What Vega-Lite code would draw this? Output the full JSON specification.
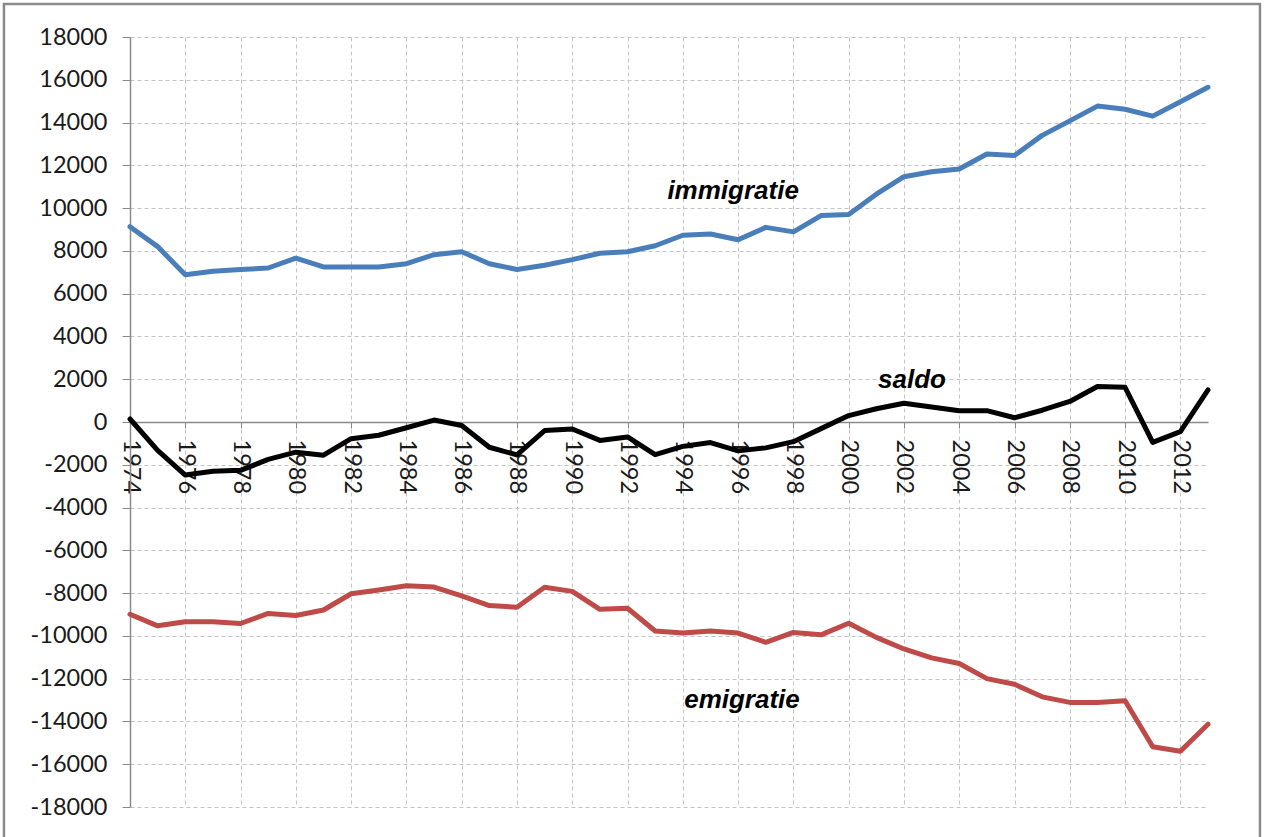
{
  "$schema": "https://vega.github.io/schema/vega-lite/v6.json",
  "width": 1078,
  "height": 770,
  "autosize": {"type": "none"},
  "padding": {"left": 130, "top": 37, "right": 58, "bottom": 30},
  "background": "#ffffff",
  "config": {"view": {"stroke": null}},
  "datasets": {
    "migration": [
      {"year": 1974, "immigratie": 9130, "emigratie": -8990, "saldo": 140},
      {"year": 1975, "immigratie": 8200, "emigratie": -9530, "saldo": -1330},
      {"year": 1976, "immigratie": 6880, "emigratie": -9340, "saldo": -2480},
      {"year": 1977, "immigratie": 7050, "emigratie": -9340, "saldo": -2300},
      {"year": 1978, "immigratie": 7130, "emigratie": -9420, "saldo": -2260},
      {"year": 1979, "immigratie": 7200, "emigratie": -8950, "saldo": -1750},
      {"year": 1980, "immigratie": 7660, "emigratie": -9050, "saldo": -1410},
      {"year": 1981, "immigratie": 7250, "emigratie": -8790, "saldo": -1550},
      {"year": 1982, "immigratie": 7250, "emigratie": -8030, "saldo": -780},
      {"year": 1983, "immigratie": 7250, "emigratie": -7850, "saldo": -620},
      {"year": 1984, "immigratie": 7400, "emigratie": -7660, "saldo": -270},
      {"year": 1985, "immigratie": 7820, "emigratie": -7720, "saldo": 90},
      {"year": 1986, "immigratie": 7960, "emigratie": -8130, "saldo": -160},
      {"year": 1987, "immigratie": 7400, "emigratie": -8580, "saldo": -1180},
      {"year": 1988, "immigratie": 7130, "emigratie": -8660, "saldo": -1540},
      {"year": 1989, "immigratie": 7330, "emigratie": -7730, "saldo": -400},
      {"year": 1990, "immigratie": 7590, "emigratie": -7920, "saldo": -330},
      {"year": 1991, "immigratie": 7890, "emigratie": -8760, "saldo": -860},
      {"year": 1992, "immigratie": 7960, "emigratie": -8710, "saldo": -700},
      {"year": 1993, "immigratie": 8240, "emigratie": -9770, "saldo": -1530},
      {"year": 1994, "immigratie": 8730, "emigratie": -9870, "saldo": -1140},
      {"year": 1995, "immigratie": 8790, "emigratie": -9770, "saldo": -960},
      {"year": 1996, "immigratie": 8520, "emigratie": -9870, "saldo": -1350},
      {"year": 1997, "immigratie": 9100, "emigratie": -10300, "saldo": -1210},
      {"year": 1998, "immigratie": 8890, "emigratie": -9840, "saldo": -920},
      {"year": 1999, "immigratie": 9650, "emigratie": -9950, "saldo": -310},
      {"year": 2000, "immigratie": 9700, "emigratie": -9410, "saldo": 300},
      {"year": 2001, "immigratie": 10650, "emigratie": -10070, "saldo": 620},
      {"year": 2002, "immigratie": 11470, "emigratie": -10610, "saldo": 880},
      {"year": 2003, "immigratie": 11700, "emigratie": -11030, "saldo": 700},
      {"year": 2004, "immigratie": 11830, "emigratie": -11290, "saldo": 530},
      {"year": 2005, "immigratie": 12530, "emigratie": -12000, "saldo": 530},
      {"year": 2006, "immigratie": 12460, "emigratie": -12260, "saldo": 200},
      {"year": 2007, "immigratie": 13400, "emigratie": -12850, "saldo": 550},
      {"year": 2008, "immigratie": 14080, "emigratie": -13110, "saldo": 960},
      {"year": 2009, "immigratie": 14770, "emigratie": -13110, "saldo": 1660},
      {"year": 2010, "immigratie": 14620, "emigratie": -13030, "saldo": 1620},
      {"year": 2011, "immigratie": 14300, "emigratie": -15180, "saldo": -950},
      {"year": 2012, "immigratie": 14970, "emigratie": -15390, "saldo": -450},
      {"year": 2013, "immigratie": 15650, "emigratie": -14130, "saldo": 1500}
    ],
    "labels": [
      {"label": "immigratie", "year": 1995.82, "value": 10430},
      {"label": "saldo", "year": 2002.29, "value": 1590},
      {"label": "emigratie", "year": 1996.14, "value": -13370}
    ]
  },
  "layer": [
    {
      "data": {"values": [{"frame": "border"}]},
      "mark": {"type": "rect", "fill": "transparent", "stroke": "#8a8a8a", "strokeWidth": 2.5, "clip": false},
      "encoding": {
        "x": {"datum": 1969.44, "type": "quantitative"},
        "x2": {"datum": 2014.88},
        "y": {"datum": 19543, "type": "quantitative"},
        "y2": {"datum": -20500}
      }
    },
    {
      "data": {"name": "migration"},
      "transform": [{"fold": ["immigratie", "saldo", "emigratie"], "as": ["series", "value"]}],
      "mark": {"type": "line", "strokeWidth": 5, "strokeJoin": "round", "strokeCap": "round"},
      "encoding": {
        "x": {
          "field": "year",
          "type": "quantitative",
          "scale": {"domain": [1974, 2013], "nice": false, "zero": false},
          "axis": {
            "title": null,
            "orient": "bottom",
            "offset": -385,
            "values": [1974,1975,1976,1977,1978,1979,1980,1981,1982,1983,1984,1985,1986,1987,1988,1989,1990,1991,1992,1993,1994,1995,1996,1997,1998,1999,2000,2001,2002,2003,2004,2005,2006,2007,2008,2009,2010,2011,2012,2013],
            "labelExpr": "datum.value % 2 === 0 ? '' + datum.value : ''",
            "labelAngle": 90,
            "labelFont": "Lato",
            "labelFontSize": 23.5,
            "labelColor": "#1a1a1a",
            "labelPadding": 11,
            "labelOverlap": false,
            "labelFlush": false,
            "labelBound": false,
            "tickSize": 6,
            "tickColor": "#8a8a8a",
            "domainColor": "#8a8a8a",
            "domainWidth": 1.5,
            "grid": true,
            "gridColor": "#c4c4c4",
            "gridDash": [4, 3],
            "gridWidth": 1
          }
        },
        "y": {
          "field": "value",
          "type": "quantitative",
          "scale": {"domain": [-18000, 18000], "nice": false},
          "axis": {
            "title": null,
            "values": [-18000,-16000,-14000,-12000,-10000,-8000,-6000,-4000,-2000,0,2000,4000,6000,8000,10000,12000,14000,16000,18000],
            "labelExpr": "'' + datum.value",
            "labelFont": "Lato",
            "labelFontSize": 23.5,
            "labelColor": "#1a1a1a",
            "labelPadding": 15,
            "labelOverlap": false,
            "labelFlush": false,
            "tickSize": 8,
            "tickColor": "#8a8a8a",
            "domainColor": "#8a8a8a",
            "domainWidth": 1.5,
            "grid": true,
            "gridColor": "#c4c4c4",
            "gridDash": [4, 3],
            "gridWidth": 1
          }
        },
        "color": {
          "field": "series",
          "type": "nominal",
          "scale": {"domain": ["immigratie", "saldo", "emigratie"], "range": ["#4a7ebb", "#000000", "#be4b48"]},
          "legend": null
        }
      }
    },
    {
      "data": {"name": "labels"},
      "mark": {"type": "text", "font": "Liberation Sans", "fontSize": 26, "fontStyle": "italic", "fontWeight": "bold", "align": "center", "baseline": "alphabetic", "color": "#000000"},
      "encoding": {
        "x": {"field": "year", "type": "quantitative"},
        "y": {"field": "value", "type": "quantitative"},
        "text": {"field": "label", "type": "nominal"}
      }
    }
  ]
}
